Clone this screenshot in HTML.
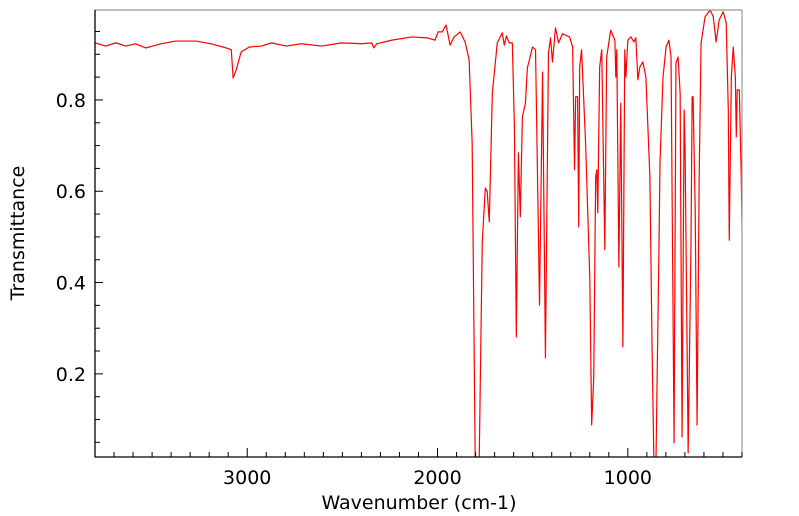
<!DOCTYPE html>
<html><head><meta charset="utf-8"><style>
body{margin:0;background:#fff}
svg{display:block;font-family:"DejaVu Sans","Liberation Sans",sans-serif}
</style></head><body>
<svg id="chart" width="799" height="516" viewBox="0 0 799 516" xmlns="http://www.w3.org/2000/svg">
<defs><clipPath id="pc"><rect x="95" y="10" width="647" height="447"/></clipPath></defs>
<rect x="0" y="0" width="799" height="516" fill="#fff"/>
<g id="plot" clip-path="url(#pc)"></g>
<g id="axes"></g>
<text x="419" y="509" font-size="19" text-anchor="middle">Wavenumber (cm-1)</text>
<text transform="translate(24,233) rotate(-90)" font-size="19" text-anchor="middle">Transmittance</text>
</svg>
<script>
const wavenumbers=[3800,3744,3691,3638,3586,3533,3496,3454,3375,3269,3190,3111,3084,3074,3058,3032,2989,2926,2873,2794,2715,2609,2504,2398,2346,2335,2319,2240,2134,2055,2013,1997,1976,1955,1934,1913,1881,1855,1834,1818,1802,1781,1765,1749,1739,1728,1712,1686,1660,1649,1638,1623,1607,1596,1586,1575,1565,1554,1538,1528,1517,1501,1485,1464,1448,1433,1417,1406,1396,1380,1364,1343,1306,1290,1280,1274,1264,1258,1253,1243,1222,1200,1190,1179,1169,1163,1158,1148,1137,1121,1111,1090,1068,1063,1058,1047,1037,1026,1016,1010,1000,984,968,958,947,937,921,905,884,873,863,852,836,831,815,799,784,773,757,747,736,725,715,704,699,683,668,662,657,646,636,625,615,594,567,551,536,520,499,483,472,467,456,446,435,430,425,414,404,393,382];
const transmittance=[.925,.918,.925,.918,.923,.914,.918,.923,.929,.929,.923,.914,.910,.848,.866,.905,.916,.918,.925,.918,.923,.918,.925,.923,.925,.914,.923,.931,.938,.936,.931,.949,.949,.964,.920,.938,.949,.927,.888,.706,.010,.010,.487,.607,.599,.533,.815,.925,.947,.920,.940,.925,.925,.741,.281,.684,.544,.763,.793,.870,.888,.916,.910,.351,.861,.235,.903,.936,.883,.958,.925,.945,.938,.916,.647,.807,.807,.522,.872,.910,.706,.412,.088,.193,.631,.647,.553,.872,.910,.472,.894,.953,.931,.850,.910,.434,.793,.259,.910,.850,.931,.938,.927,.936,.844,.872,.883,.850,.631,.268,.010,.010,.487,.662,.850,.916,.931,.894,.049,.881,.894,.815,.062,.778,.691,.027,.487,.807,.807,.559,.088,.631,.925,.982,.997,.982,.927,.975,.993,.969,.778,.493,.850,.916,.850,.719,.822,.822,.631,.340,.209];
const xTicks=[3000,2000,1000];
const yTicks=[0.2,0.4,0.6,0.8];
const xDomain=[3800,400], yDomain=[0.0179,0.997];
const L=95,R=742,T=10,B=457;
const sx=v=>L+(xDomain[0]-v)/(xDomain[0]-xDomain[1])*(R-L);
const sy=v=>B-(v-yDomain[0])/(yDomain[1]-yDomain[0])*(B-T);
const NS="http://www.w3.org/2000/svg";
function mk(tag,attrs,parent){const e=document.createElementNS(NS,tag);for(const k in attrs)e.setAttribute(k,attrs[k]);parent.appendChild(e);return e;}
const plot=document.getElementById('plot'), axes=document.getElementById('axes');
let d=wavenumbers.map((w,i)=>(i?'L':'M')+sx(w).toFixed(2)+','+sy(transmittance[i]).toFixed(2)).join('');
const line=mk('path',{d:d,fill:'none',stroke:'#ff0000','stroke-width':1.2,'stroke-linejoin':'round'},plot);


const frameTR=mk('path',{d:`M${L},${T}H${R}V${B}`,fill:'none',stroke:'#999','stroke-width':1.2},axes);


const frame=mk('path',{d:`M${L},${T}V${B}H${R}`,fill:'none',stroke:'#000','stroke-width':1.3},axes);


for(let v=3700;v>=400;v-=100){const x=sx(v);const major=v%1000===0;mk('line',{x1:x,x2:x,y1:B,y2:B-(major?9:5),stroke:'#000','stroke-width':1},axes);}
for(let k=1;k<=19;k++){const v=k*0.05;if(v>yDomain[1])break;const y=sy(v);const major=k%4===0;mk('line',{x1:L,x2:L+(major?8:5),y1:y,y2:y,stroke:'#000','stroke-width':1},axes);}
xTicks.forEach(v=>{const t=mk('text',{x:sx(v),y:484,'font-size':19,'text-anchor':'middle'},axes);t.textContent=v;

});
yTicks.forEach(v=>{const t=mk('text',{x:86,y:sy(v)+7,'font-size':19,'text-anchor':'end'},axes);t.textContent=v.toFixed(1);

});
</script>
</body></html>
